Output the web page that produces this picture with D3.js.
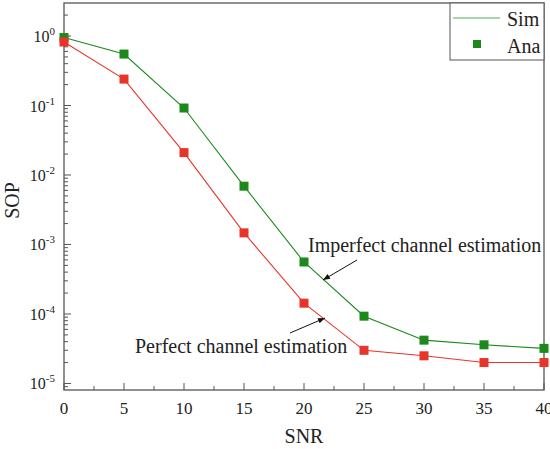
<!DOCTYPE html>
<html>
<head>
<meta charset="utf-8">
<script src="https://cdn.jsdelivr.net/npm/d3@7"></script>
<style>
  body { margin: 0; background: #fff; }
  text { font-family: "Liberation Serif", "Times New Roman", serif; fill: #222; }
</style>
</head>
<body>
<svg id="chart" width="550" height="449"></svg>
<script>
const snr = [0, 5, 10, 15, 20, 25, 30, 35, 40]
const sopImperfect = [0.95, 0.55, 0.092, 0.0069, 5.6e-4, 9.3e-5, 4.2e-5, 3.6e-5, 3.2e-5]
const sopPerfect = [0.82, 0.24, 0.021, 1.47e-3, 1.43e-4, 3.0e-5, 2.5e-5, 2.0e-5, 2.0e-5]
const xTicks = [0, 5, 10, 15, 20, 25, 30, 35, 40]
const yExponents = [0, -1, -2, -3, -4, -5]

const green = '#1b8a1b'
const red = '#e8352b'

const svg = d3.select('#chart')
const margin = { left: 64, right: 6, top: 3, bottom: 59 }
const width = 550 - margin.left - margin.right
const height = 449 - margin.top - margin.bottom

const g = svg.append('g').attr('transform', `translate(${margin.left},${margin.top})`)

const x = d3.scaleLinear().domain([0, 40]).range([0, width])
const y = d3.scaleLog().domain([Math.pow(10, -5.094), Math.pow(10, 0.475)]).range([height, 0])

// minor ticks
const yMinor = []
for (let e = -6; e <= 0; e++) {
  for (let m = 2; m <= 9; m++) {
    const v = m * Math.pow(10, e)
    if (v >= y.domain()[0] && v <= y.domain()[1]) yMinor.push(v)
  }
}
g.selectAll('.yminor').data(yMinor).enter().append('line')
  .attr('x1', 0).attr('x2', 4)
  .attr('y1', d => y(d)).attr('y2', d => y(d))
  .attr('stroke', '#555').attr('stroke-width', 1)

g.selectAll('.ymajor').data(yExponents).enter().append('line')
  .attr('x1', 0).attr('x2', 7)
  .attr('y1', d => y(Math.pow(10, d))).attr('y2', d => y(Math.pow(10, d)))
  .attr('stroke', '#555').attr('stroke-width', 1)

const yLab = g.selectAll('.ylab').data(yExponents).enter().append('text')
  .attr('x', -9).attr('y', d => y(Math.pow(10, d)) + 6)
  .attr('text-anchor', 'end')
  .style('font-size', '16px')
yLab.append('tspan').text('10')
yLab.append('tspan').attr('dy', -7).style('font-size', '11px').text(d => d === 0 ? '0' : d)

const xMinor = d3.range(2.5, 40, 5)
g.selectAll('.xminor').data(xMinor).enter().append('line')
  .attr('x1', d => x(d)).attr('x2', d => x(d))
  .attr('y1', height).attr('y2', height - 4)
  .attr('stroke', '#555')
g.selectAll('.xmajor').data(xTicks).enter().append('line')
  .attr('x1', d => x(d)).attr('x2', d => x(d))
  .attr('y1', height).attr('y2', height - 7)
  .attr('stroke', '#555')
g.selectAll('.xlab').data(xTicks).enter().append('text')
  .attr('x', d => x(d)).attr('y', height + 24)
  .attr('text-anchor', 'middle')
  .style('font-size', '17px')
  .text(d => d)

// frame
g.append('rect').attr('width', width).attr('height', height)
  .attr('fill', 'none').attr('stroke', '#555').attr('stroke-width', 1.3)

// axis titles
svg.append('text').attr('x', 304).attr('y', 443)
  .attr('text-anchor', 'middle').style('font-size', '20px').text('SNR')
svg.append('text').attr('transform', `translate(19,${margin.top + height / 2 + 4}) rotate(-90)`)
  .attr('text-anchor', 'middle').style('font-size', '20px').text('SOP')

// series
const line = d3.line().x(d => x(d[0])).y(d => y(d[1]))
const series = [
  { vals: sopImperfect, color: green },
  { vals: sopPerfect, color: red }
]
series.forEach(s => {
  const pts = snr.map((v, i) => [v, s.vals[i]])
  g.append('path').datum(pts).attr('d', line)
    .attr('fill', 'none').attr('stroke', s.color).attr('stroke-width', 1.1)
  g.selectAll(null).data(pts).enter().append('rect')
    .attr('x', d => x(d[0]) - 4.5).attr('y', d => y(d[1]) - 4.5)
    .attr('width', 9).attr('height', 9)
    .attr('fill', s.color)
})

// annotations
svg.append('defs').append('marker')
  .attr('id', 'arr').attr('viewBox', '0 0 10 10').attr('refX', 10).attr('refY', 5)
  .attr('markerWidth', 9).attr('markerHeight', 7).attr('orient', 'auto')
  .attr('markerUnits', 'userSpaceOnUse')
  .append('path').attr('d', 'M0,1 L10,5 L0,9 Z').attr('fill', '#111')

svg.append('text').attr('x', 308).attr('y', 252).style('font-size', '20px')
  .text('Imperfect channel estimation')
svg.append('line').attr('x1', 357).attr('y1', 260).attr('x2', 323).attr('y2', 280)
  .attr('stroke', '#111').attr('stroke-width', 1).attr('marker-end', 'url(#arr)')

svg.append('text').attr('x', 135).attr('y', 353).style('font-size', '20px')
  .text('Perfect channel estimation')
svg.append('line').attr('x1', 290).attr('y1', 333).attr('x2', 325).attr('y2', 318)
  .attr('stroke', '#111').attr('stroke-width', 1).attr('marker-end', 'url(#arr)')

// legend
const lg = svg.append('g')
lg.append('rect').attr('x', 450).attr('y', margin.top).attr('width', 94).attr('height', 57)
  .attr('fill', '#fff').attr('stroke', '#555').attr('stroke-width', 1)
lg.append('line').attr('x1', 453).attr('x2', 500).attr('y1', 18).attr('y2', 18)
  .attr('stroke', '#4caf50').attr('stroke-width', 1.2)
lg.append('text').attr('x', 507).attr('y', 26).style('font-size', '20px').text('Sim')
lg.append('rect').attr('x', 473).attr('y', 40).attr('width', 8).attr('height', 8).attr('fill', green)
lg.append('text').attr('x', 507).attr('y', 53).style('font-size', '20px').text('Ana')
</script>
</body>
</html>
